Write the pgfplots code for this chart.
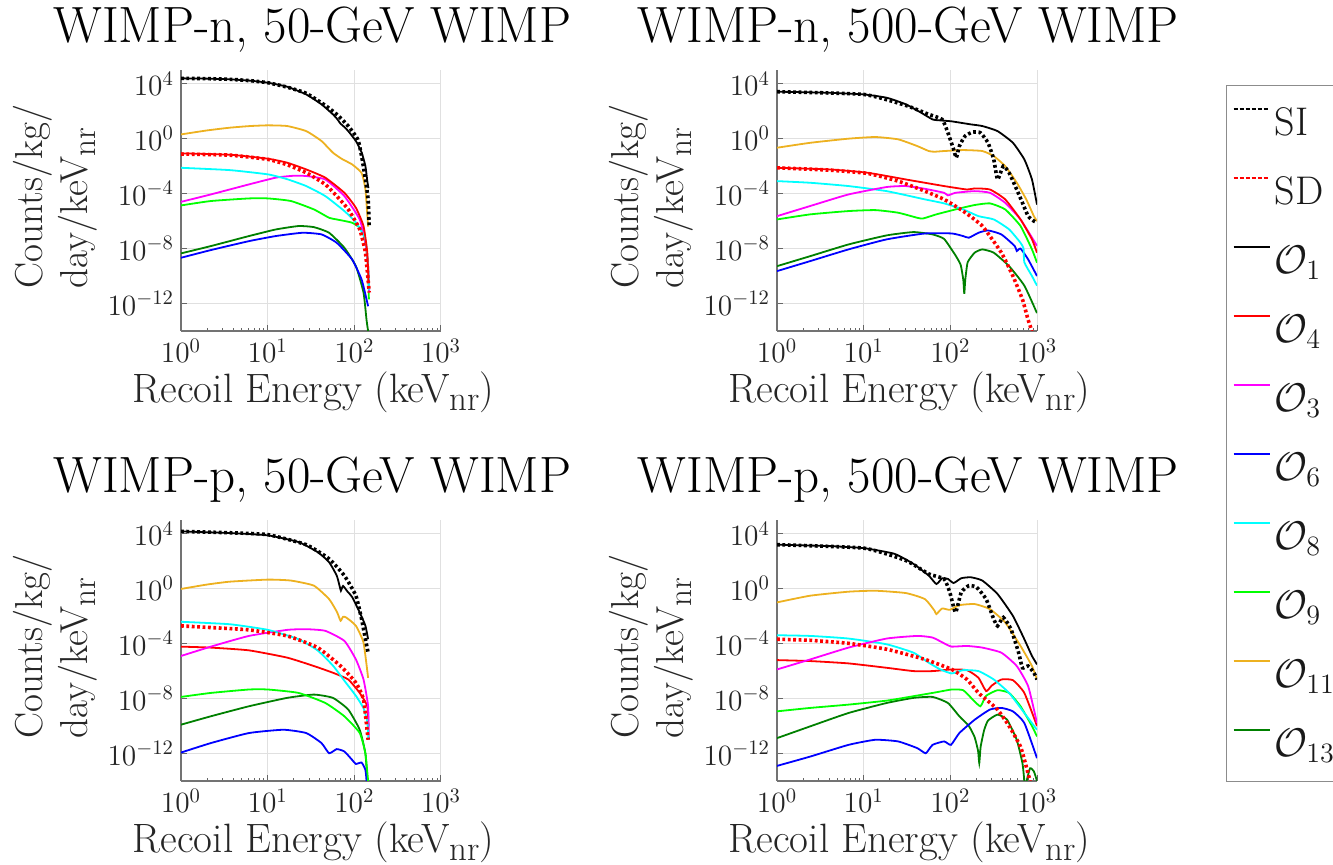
\RequirePackage{fix-cm}
\documentclass[border=0pt]{standalone}
\usepackage{fontspec}
\usepackage{graphicx}
\usepackage{pgfplots}
\pgfplotsset{compat=1.18}
\definecolor{mYel}{rgb}{0.929,0.694,0.125}
\definecolor{mDG}{rgb}{0,0.5,0}
\definecolor{mGr}{rgb}{0,1,0}
\definecolor{mMag}{rgb}{1,0,1}
\definecolor{mCy}{rgb}{0,1,1}
\definecolor{mRed}{rgb}{1,0,0}
\definecolor{mBlu}{rgb}{0,0,1}
\newcommand\nr{\raisebox{-0.45ex}{\scalebox{0.85}{nr}}}
\pgfplotsset{
  table/logxy/.style={row sep=\\, x expr={pow(10,\thisrow{a})}, y expr={pow(10,\thisrow{b})}},
  cSI/.style={black, line width=1.8pt, dash pattern=on 1.4pt off 1.3pt, forget plot, smooth, tension=0.3},
  cSD/.style={mRed, line width=1.8pt, dash pattern=on 1.4pt off 1.3pt, forget plot, smooth, tension=0.3},
  cO1/.style={black, line width=0.9pt, forget plot, smooth, tension=0.3},
  cO4/.style={mRed, line width=0.9pt, forget plot, smooth, tension=0.3},
  cO3/.style={mMag, line width=0.9pt, forget plot, smooth, tension=0.3},
  cO6/.style={mBlu, line width=0.9pt, forget plot, smooth, tension=0.3},
  cO8/.style={mCy, line width=0.9pt, forget plot, smooth, tension=0.3},
  cO9/.style={mGr, line width=0.9pt, forget plot, smooth, tension=0.3},
  cO11/.style={mYel, line width=0.9pt, forget plot, smooth, tension=0.3},
  cO13/.style={mDG, line width=0.9pt, forget plot, smooth, tension=0.3},
}
\pgfplotsset{every axis/.append style={
    scale only axis, width=130pt, height=130.5pt,
    xmin=1, xmax=1000, ymin=1e-14, ymax=1e5,
    xtick={1,10,100,1000}, ytick={1e-12,1e-8,1e-4,1,1e4},
    axis x line*=bottom, axis y line*=left,
    axis line style={black!55, line width=0.6pt, -},
    grid=major, major grid style={black!12, line width=0.5pt},
    tick style={black!60, line width=0.5pt},
    major tick length=3pt, minor tick length=1.6pt, tick align=inside,
    tick label style={font=\fontsize{14.7}{17}\selectfont, text=black!85},
    xticklabel style={anchor=base, yshift=-16pt},
    title style={font=\fontsize{25.5}{30}\selectfont, at={(axis description cs:0.505,1)}, anchor=base, yshift=7.5pt},
    xlabel style={font=\fontsize{20.5}{24}\selectfont, text=black!85, at={(axis description cs:0.51,0)}, anchor=base, yshift=-36pt},
    ylabel style={font=\fontsize{19.5}{22.5}\selectfont, text=black!85, at={(axis description cs:-0.483,0.515)}, anchor=center, align=left},
    xlabel={Recoil Energy (keV\nr)},
    ylabel={Counts/kg/\\day/keV\nr},
}}
\begin{document}
\begin{tikzpicture}
\path[use as bounding box] (0pt,0pt) rectangle (666.5pt,432.5pt);

% ---------------- Top left: WIMP-n, 50 GeV
\begin{loglogaxis}[at={(90.5pt,267pt)}, anchor=south west, title={WIMP-n, 50-GeV WIMP}]
\addplot[cO13] table[logxy]{a b\\ 0 -8.35\\ 0.344 -7.82\\ 0.784 -7.09\\ 1.093 -6.61\\ 1.357 -6.36\\ 1.533 -6.44\\ 1.709 -6.85\\ 1.885 -7.94\\ 2.018 -9.28\\ 2.106 -11.2\\ 2.141 -13.2\\ 2.159 -14\\};
\addplot[cO6] table[logxy]{a b\\ 0 -8.67\\ 0.344 -8.11\\ 0.784 -7.46\\ 1.093 -7.09\\ 1.401 -6.85\\ 1.621 -6.97\\ 1.797 -7.58\\ 1.974 -8.79\\ 2.084 -10.25\\ 2.141 -11.7\\ 2.159 -12.2\\};
\addplot[cO9] table[logxy]{a b\\ 0 -4.86\\ 0.344 -4.54\\ 0.784 -4.35\\ 1.004 -4.35\\ 1.269 -4.54\\ 1.533 -5.15\\ 1.709 -5.76\\ 1.797 -5.88\\ 1.974 -6.12\\ 2.084 -6.6\\ 2.128 -7.58\\ 2.159 -9.3\\ 2.168 -11.7\\};
\addplot[cO3] table[logxy]{a b\\ 0 -4.6\\ 0.344 -4.06\\ 0.784 -3.33\\ 1.093 -2.84\\ 1.3 -2.7\\ 1.445 -2.72\\ 1.665 -2.97\\ 1.885 -4.18\\ 2.062 -5.88\\ 2.128 -7.58\\ 2.159 -9.3\\ 2.172 -11.2\\};
\addplot[cO8] table[logxy]{a b\\ 0 -2.12\\ 0.564 -2.29\\ 1.004 -2.6\\ 1.225 -2.95\\ 1.445 -3.45\\ 1.665 -4.18\\ 1.885 -5.27\\ 2.018 -6.1\\ 2.128 -7.33\\ 2.159 -9.3\\ 2.172 -11\\};
\addplot[cO4] table[logxy]{a b\\ 0 -1.07\\ 0.564 -1.17\\ 1.004 -1.46\\ 1.225 -1.75\\ 1.445 -2.24\\ 1.665 -2.84\\ 1.885 -3.94\\ 2.018 -5.03\\ 2.106 -6.36\\ 2.150 -8.3\\ 2.163 -10.5\\};
\addplot[cO11] table[logxy]{a b\\ 0 0.31\\ 0.3 0.6\\ 0.564 0.8\\ 0.8 0.92\\ 1.004 0.97\\ 1.225 0.92\\ 1.445 0.55\\ 1.621 -0.17\\ 1.753 -1.02\\ 1.863 -1.5\\ 1.974 -1.87\\ 2.084 -2.5\\ 2.128 -3.7\\ 2.159 -6.4\\};
\addplot[cO1] table[logxy]{a b\\ 0 4.39\\ 0.3 4.37\\ 0.564 4.32\\ 0.8 4.22\\ 1.004 4.07\\ 1.225 3.78\\ 1.445 3.22\\ 1.621 2.5\\ 1.753 1.77\\ 1.8 1.45\\ 1.84 1.1\\ 1.885 0.85\\ 1.930 0.55\\ 2.018 -0.17\\ 2.084 -1.0\\ 2.128 -2.0\\ 2.150 -3.1\\ 2.163 -3.6\\};
\addplot[cSD] table[logxy]{a b\\ 0 -1.12\\ 0.564 -1.2\\ 1.004 -1.51\\ 1.225 -1.9\\ 1.445 -2.48\\ 1.665 -3.33\\ 1.797 -4.18\\ 1.930 -5.15\\ 2.062 -6.6\\ 2.128 -8.3\\ 2.172 -11.2\\};
\addplot[cSI] table[logxy]{a b\\ 0 4.39\\ 0.3 4.37\\ 0.564 4.32\\ 0.8 4.22\\ 1.004 4.07\\ 1.225 3.75\\ 1.445 3.30\\ 1.665 2.42\\ 1.797 1.77\\ 1.930 0.92\\ 2.040 -0.05\\ 2.084 -1.27\\ 2.128 -2.97\\ 2.159 -4.42\\ 2.172 -6.36\\};
\end{loglogaxis}

% ---------------- Top right: WIMP-n, 500 GeV (with legend)
\begin{loglogaxis}[at={(388.5pt,267pt)}, anchor=south west, title={WIMP-n, 500-GeV WIMP},
  legend cell align=left,
  legend image code/.code={\draw[#1] (0pt,7pt) -- (18pt,7pt);},
  legend style={at={(axis description cs:1.727,0.9425)}, anchor=north west,
    draw=black!45, line width=0.6pt, fill=white, text=black!90,
    font=\fontsize{20}{23}\selectfont, inner xsep=3pt, inner ysep=9.75pt,
    row sep=16.5pt, column sep=2pt,
    nodes={inner sep=0pt, text height=15pt, text depth=3pt}}]
\addplot[cO13] table[logxy]{a b\\ 0 -9.28\\ 0.384 -8.55\\ 0.825 -7.7\\ 1.266 -7.04\\ 1.575 -6.8\\ 1.795 -6.97\\ 1.928 -7.3\\ 2.060 -8.5\\ 2.12 -9.2\\ 2.150 -10.3\\ 2.161 -11.3\\ 2.172 -10.3\\ 2.20 -9.0\\ 2.281 -8.3\\ 2.369 -8.06\\ 2.501 -8.3\\ 2.678 -9.28\\ 2.854 -10.7\\ 3.0 -12.7\\};
\addplot[cO6] table[logxy]{a b\\ 0 -9.64\\ 0.384 -8.91\\ 0.825 -8.06\\ 1.266 -7.33\\ 1.707 -6.9\\ 2.016 -6.9\\ 2.148 -7.09\\ 2.214 -7.21\\ 2.325 -6.85\\ 2.435 -6.68\\ 2.589 -6.97\\ 2.744 -7.82\\ 2.766 -8.18\\ 2.810 -8.0\\ 2.898 -8.79\\ 3.0 -10.0\\};
\addplot[cO9] table[logxy]{a b\\ 0 -5.88\\ 0.384 -5.51\\ 0.825 -5.27\\ 1.134 -5.2\\ 1.398 -5.39\\ 1.619 -5.76\\ 1.685 -5.81\\ 1.839 -5.51\\ 2.060 -5.15\\ 2.281 -4.83\\ 2.457 -4.71\\ 2.633 -5.15\\ 2.810 -6.36\\ 2.942 -8.06\\ 3.0 -9.03\\};
\addplot[cO8] table[logxy]{a b\\ 0 -3.09\\ 0.384 -3.21\\ 0.825 -3.45\\ 1.266 -3.82\\ 1.707 -4.42\\ 1.928 -4.71\\ 2.148 -5.15\\ 2.325 -5.64\\ 2.501 -5.88\\ 2.678 -6.6\\ 2.810 -7.58\\ 2.845 -8.0\\ 2.854 -9.0\\ 2.942 -10.0\\ 3.0 -10.7\\};
\addplot[cO3] table[logxy]{a b\\ 0 -5.64\\ 0.384 -4.9\\ 0.825 -4.06\\ 1.266 -3.52\\ 1.487 -3.45\\ 1.707 -3.65\\ 1.928 -3.94\\ 1.972 -4.13\\ 2.060 -3.94\\ 2.281 -3.82\\ 2.457 -3.94\\ 2.633 -4.67\\ 2.810 -5.88\\ 3.0 -7.8\\};
\addplot[cO4] table[logxy]{a b\\ 0 -2.12\\ 0.604 -2.24\\ 1.045 -2.48\\ 1.487 -2.97\\ 1.928 -3.45\\ 2.192 -3.7\\ 2.281 -3.62\\ 2.457 -3.7\\ 2.633 -4.42\\ 2.810 -5.88\\ 2.942 -7.33\\ 3.0 -8.3\\};
\addplot[cO11] table[logxy]{a b\\ 0 -0.66\\ 0.384 -0.3\\ 0.825 0\\ 1.134 0.12\\ 1.398 -0.05\\ 1.619 -0.54\\ 1.751 -0.9\\ 1.817 -0.95\\ 1.928 -0.9\\ 2.148 -0.83\\ 2.369 -0.9\\ 2.501 -1.27\\ 2.633 -2.0\\ 2.766 -3.2\\ 2.876 -4.42\\ 2.964 -5.64\\ 3.0 -6.0\\};
\addplot[cO1] table[logxy]{a b\\ 0 3.42\\ 0.604 3.34\\ 1.001 3.22\\ 1.266 2.98\\ 1.487 2.5\\ 1.663 1.89\\ 1.795 1.4\\ 1.884 1.33\\ 2.016 1.26\\ 2.236 1.04\\ 2.369 0.92\\ 2.545 0.55\\ 2.722 -0.3\\ 2.854 -1.51\\ 2.942 -2.97\\ 3.0 -4.8\\};
\addplot[cSD] table[logxy]{a b\\ 0 -2.12\\ 0.604 -2.29\\ 1.045 -2.53\\ 1.398 -3.09\\ 1.707 -3.82\\ 1.928 -4.42\\ 2.148 -5.27\\ 2.369 -6.36\\ 2.589 -8.3\\ 2.722 -10.0\\ 2.832 -11.7\\ 2.898 -13.2\\ 2.942 -14\\};
\addplot[cSI] table[logxy]{a b\\ 0 3.42\\ 1.001 3.22\\ 1.487 2.42\\ 1.751 1.77\\ 1.906 1.4\\ 1.972 0.43\\ 2.038 -0.78\\ 2.069 -1.39\\ 2.104 -0.54\\ 2.170 0.19\\ 2.258 0.48\\ 2.347 0.43\\ 2.435 -0.3\\ 2.501 -1.51\\ 2.545 -2.97\\ 2.611 -2.0\\ 2.678 -2.48\\ 2.766 -3.7\\ 2.832 -4.67\\ 2.898 -5.64\\ 2.964 -6.0\\ 3.0 -6.12\\};
\addlegendimage{draw=black, line width=1pt, dash pattern=on 2pt off 1pt}\addlegendentry{SI}
\addlegendimage{draw=mRed, line width=1pt, dash pattern=on 2pt off 1pt}\addlegendentry{SD}
\addlegendimage{draw=black, line width=0.9pt}\addlegendentry{$\mathcal{O}_{1}$}
\addlegendimage{draw=mRed, line width=0.9pt}\addlegendentry{$\mathcal{O}_{4}$}
\addlegendimage{draw=mMag, line width=0.9pt}\addlegendentry{$\mathcal{O}_{3}$}
\addlegendimage{draw=mBlu, line width=0.9pt}\addlegendentry{$\mathcal{O}_{6}$}
\addlegendimage{draw=mCy, line width=0.9pt}\addlegendentry{$\mathcal{O}_{8}$}
\addlegendimage{draw=mGr, line width=0.9pt}\addlegendentry{$\mathcal{O}_{9}$}
\addlegendimage{draw=mYel, line width=0.9pt}\addlegendentry{$\mathcal{O}_{11}$}
\addlegendimage{draw=mDG, line width=0.9pt}\addlegendentry{$\mathcal{O}_{13}$}
\end{loglogaxis}

% ---------------- Bottom left: WIMP-p, 50 GeV
\begin{loglogaxis}[at={(90.5pt,42pt)}, anchor=south west, title={WIMP-p, 50-GeV WIMP}]
\addplot[cO13] table[logxy]{a b\\ 0 -9.9\\ 0.344 -9.29\\ 0.784 -8.56\\ 1.225 -7.95\\ 1.533 -7.71\\ 1.753 -7.95\\ 1.930 -8.8\\ 2.062 -10.27\\ 2.128 -12\\ 2.150 -14\\};
\addplot[cO6] table[logxy]{a b\\ 0 -11.93\\ 0.344 -11.24\\ 0.784 -10.51\\ 1.181 -10.27\\ 1.445 -10.51\\ 1.621 -11.24\\ 1.709 -11.98\\ 1.797 -11.68\\ 1.885 -11.85\\ 1.974 -12.46\\ 2.018 -12.76\\ 2.084 -12.66\\ 2.128 -13.2\\ 2.141 -14\\};
\addplot[cO9] table[logxy]{a b\\ 0 -7.88\\ 0.344 -7.59\\ 0.784 -7.34\\ 1.004 -7.34\\ 1.357 -7.59\\ 1.665 -8.32\\ 1.885 -9.29\\ 2.062 -10.5\\ 2.128 -12\\ 2.159 -14\\};
\addplot[cO4] table[logxy]{a b\\ 0 -4.22\\ 0.344 -4.29\\ 0.784 -4.49\\ 1.225 -5.02\\ 1.533 -5.63\\ 1.753 -6.12\\ 1.930 -6.61\\ 2.062 -7.59\\ 2.150 -8.56\\ 2.163 -10\\};
\addplot[cO3] table[logxy]{a b\\ 0 -4.9\\ 0.344 -4.22\\ 0.784 -3.44\\ 1.225 -3.0\\ 1.445 -2.95\\ 1.665 -3.07\\ 1.885 -3.8\\ 2.018 -5.15\\ 2.106 -6.61\\ 2.159 -8.56\\ 2.167 -11\\};
\addplot[cO8] table[logxy]{a b\\ 0 -2.41\\ 0.564 -2.59\\ 1.004 -3.0\\ 1.357 -3.68\\ 1.577 -4.5\\ 1.753 -5.6\\ 1.885 -6.7\\ 2.018 -7.8\\ 2.106 -8.7\\ 2.150 -9.7\\ 2.163 -11\\};
\addplot[cO11] table[logxy]{a b\\ 0 -0.02\\ 0.3 0.3\\ 0.564 0.51\\ 1.004 0.66\\ 1.269 0.59\\ 1.533 0.22\\ 1.709 -0.76\\ 1.80 -1.7\\ 1.841 -2.34\\ 1.870 -2.05\\ 1.907 -2.1\\ 2.018 -2.7\\ 2.106 -3.93\\ 2.159 -6.49\\};
\addplot[cO1] table[logxy]{a b\\ 0 4.17\\ 0.564 4.05\\ 1.004 3.88\\ 1.357 3.39\\ 1.577 2.66\\ 1.709 1.93\\ 1.797 0.95\\ 1.830 0.2\\ 1.845 -0.15\\ 1.870 0.2\\ 1.92 -0.2\\ 1.974 -0.6\\ 2.062 -1.73\\ 2.128 -2.7\\ 2.159 -3.68\\};
\addplot[cSD] table[logxy]{a b\\ 0 -2.71\\ 0.344 -2.83\\ 0.784 -3.0\\ 1.225 -3.44\\ 1.577 -4.29\\ 1.841 -5.63\\ 2.018 -6.85\\ 2.106 -8.07\\ 2.159 -11\\};
\addplot[cSI] table[logxy]{a b\\ 0 4.17\\ 0.564 4.07\\ 1.004 3.93\\ 1.445 3.2\\ 1.709 2.17\\ 1.885 0.95\\ 2.018 -0.51\\ 2.084 -2.22\\ 2.128 -3.68\\ 2.159 -4.66\\};
\end{loglogaxis}

% ---------------- Bottom right: WIMP-p, 500 GeV
\begin{loglogaxis}[at={(388.5pt,42pt)}, anchor=south west, title={WIMP-p, 500-GeV WIMP}]
\addplot[cO13] table[logxy]{a b\\ 0 -10.88\\ 0.384 -10.02\\ 0.825 -9.05\\ 1.266 -8.32\\ 1.575 -7.95\\ 1.795 -7.88\\ 1.972 -8.32\\ 2.104 -9.29\\ 2.214 -10.0\\ 2.28 -10.8\\ 2.32 -11.8\\ 2.334 -12.7\\ 2.35 -11.5\\ 2.39 -10.3\\ 2.435 -9.6\\ 2.545 -9.17\\ 2.655 -9.54\\ 2.766 -11.0\\ 2.832 -12.7\\ 2.854 -14\\};
\addplot[cO13] table[logxy]{a b\\ 2.88 -14\\ 2.920 -13.07\\ 2.964 -13.3\\ 3.0 -14\\};
\addplot[cO6] table[logxy]{a b\\ 0 -12.9\\ 0.384 -12.22\\ 0.825 -11.37\\ 1.134 -11.0\\ 1.398 -11.12\\ 1.619 -11.61\\ 1.716 -11.98\\ 1.795 -11.37\\ 1.928 -11.12\\ 2.007 -11.37\\ 2.104 -10.51\\ 2.281 -9.54\\ 2.457 -8.8\\ 2.589 -8.68\\ 2.722 -8.93\\ 2.854 -9.78\\ 3.0 -12.34\\};
\addplot[cO9] table[logxy]{a b\\ 0 -8.93\\ 0.384 -8.68\\ 0.825 -8.44\\ 1.266 -8.15\\ 1.619 -7.78\\ 1.839 -7.54\\ 2.016 -7.34\\ 2.148 -7.39\\ 2.258 -8.07\\ 2.347 -8.56\\ 2.413 -7.8\\ 2.545 -7.39\\ 2.678 -7.59\\ 2.810 -8.56\\ 2.942 -10.0\\ 3.0 -10.76\\};
\addplot[cO4] table[logxy]{a b\\ 0 -5.2\\ 0.384 -5.27\\ 0.825 -5.44\\ 1.266 -5.76\\ 1.575 -6.0\\ 1.795 -6.0\\ 2.016 -5.88\\ 2.192 -5.93\\ 2.325 -6.49\\ 2.413 -7.46\\ 2.479 -7.05\\ 2.589 -6.61\\ 2.722 -6.66\\ 2.854 -7.59\\ 3.0 -10.0\\};
\addplot[cO8] table[logxy]{a b\\ 0 -3.39\\ 0.384 -3.44\\ 0.825 -3.63\\ 1.266 -4.05\\ 1.575 -4.66\\ 1.751 -5.39\\ 1.884 -5.88\\ 2.016 -6.17\\ 2.148 -5.93\\ 2.325 -6.0\\ 2.501 -6.61\\ 2.678 -7.59\\ 2.854 -9.05\\ 3.0 -10.27\\};
\addplot[cO3] table[logxy]{a b\\ 0 -5.88\\ 0.384 -5.15\\ 0.825 -4.29\\ 1.266 -3.63\\ 1.619 -3.44\\ 1.795 -3.56\\ 1.950 -4.05\\ 2.016 -4.22\\ 2.192 -4.17\\ 2.369 -4.29\\ 2.589 -4.66\\ 2.766 -5.63\\ 2.898 -7.1\\ 3.0 -9.78\\};
\addplot[cO11] table[logxy]{a b\\ 0 -1.0\\ 0.384 -0.51\\ 0.825 -0.22\\ 1.134 -0.15\\ 1.487 -0.32\\ 1.707 -0.76\\ 1.817 -1.6\\ 1.839 -1.85\\ 1.906 -1.44\\ 1.994 -1.54\\ 2.104 -1.2\\ 2.281 -1.12\\ 2.457 -1.49\\ 2.633 -2.46\\ 2.810 -4.17\\ 2.942 -5.63\\ 3.0 -6.61\\};
\addplot[cO1] table[logxy]{a b\\ 0 3.2\\ 0.604 3.1\\ 1.001 2.95\\ 1.354 2.54\\ 1.575 1.8\\ 1.751 0.95\\ 1.839 0.34\\ 1.906 0.76\\ 1.972 0.71\\ 2.038 0.41\\ 2.126 0.76\\ 2.236 0.83\\ 2.369 0.59\\ 2.545 -0.39\\ 2.722 -1.98\\ 2.854 -3.68\\ 2.942 -4.9\\ 3.0 -5.51\\};
\addplot[cSD] table[logxy]{a b\\ 0 -3.68\\ 0.384 -3.76\\ 0.825 -3.98\\ 1.266 -4.41\\ 1.707 -5.15\\ 2.016 -5.88\\ 2.192 -6.61\\ 2.325 -7.59\\ 2.413 -8.07\\ 2.545 -8.8\\ 2.678 -10.0\\ 2.810 -11.5\\ 2.876 -12.95\\ 2.920 -14\\};
\addplot[cSI] table[logxy]{a b\\ 0 3.2\\ 1.001 2.95\\ 1.487 2.05\\ 1.751 1.07\\ 1.928 0.71\\ 1.994 -0.27\\ 2.060 -1.73\\ 2.126 -0.27\\ 2.214 0.22\\ 2.303 0.1\\ 2.413 -0.76\\ 2.501 -2.22\\ 2.545 -2.71\\ 2.611 -2.1\\ 2.700 -2.95\\ 2.788 -4.66\\ 2.832 -5.76\\ 2.898 -5.63\\ 2.964 -6.12\\ 3.0 -6.61\\};
\end{loglogaxis}
\end{tikzpicture}
\end{document}
